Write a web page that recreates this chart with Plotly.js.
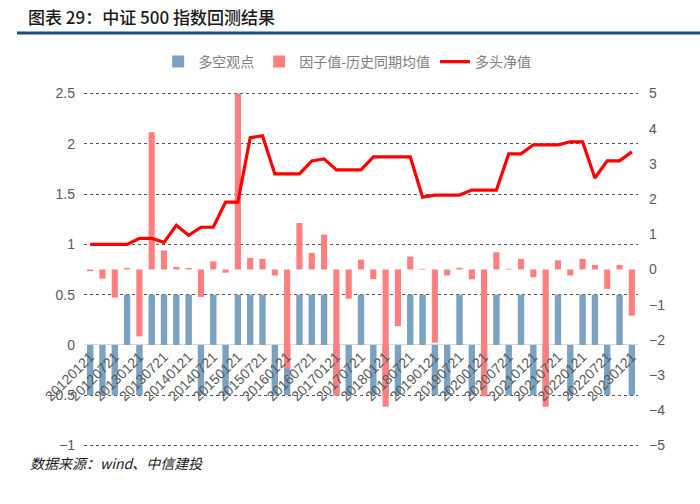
<!DOCTYPE html>
<html>
<head>
<meta charset="utf-8">
<script src="https://cdn.plot.ly/plotly-3.0.1.min.js"></script>
<style>html,body{margin:0;padding:0;background:#fff;}#chart{width:700px;height:504px;}</style>
</head>
<body>
<div id="chart"></div>
<script>
const dates = ["20120121","20120421","20120721","20121021","20130121","20130421","20130721","20131021",
"20140121","20140421","20140721","20141021","20150121","20150421","20150721","20151021",
"20160121","20160421","20160721","20161021","20170121","20170421","20170721","20171021",
"20180121","20180421","20180721","20181021","20190121","20190421","20190721","20191021",
"20200121","20200421","20200721","20201021","20210121","20210421","20210721","20211021",
"20220121","20220421","20220721","20221021","20230121"];

const viewLongShort = [-0.5,-0.5,-0.5,0.5,-0.5,0.5,0.5,0.5,0.5,-0.5,0.5,-0.5,0.5,0.5,0.5,-0.5,
-0.5,0.5,0.5,0.5,-0.5,-0.5,0.5,-0.5,-0.5,-0.5,0.5,0.5,-0.5,-0.5,0.5,-0.5,
-0.5,0.5,-0.5,0.5,-0.5,-0.5,0.5,-0.5,0.5,0.5,-0.5,0.5,-0.5];

const factorDiff = [-0.05,-0.26,-0.8,0.04,-1.9,3.9,0.54,0.07,0.04,-0.78,0.23,-0.09,5.0,0.33,0.3,-0.17,
-2.8,1.32,0.47,0.99,-3.58,-0.83,0.28,-0.27,-3.9,-1.61,0.37,0.02,-2.08,-0.17,0.05,-0.28,
-3.6,0.49,0.02,0.3,-0.22,-3.9,0.26,-0.17,0.3,0.13,-0.55,0.13,-1.31];

const longNav = [1.0,1.0,1.0,1.0,1.06,1.06,1.02,1.19,1.09,1.17,1.17,1.42,1.42,2.06,2.08,1.70,
1.70,1.70,1.83,1.85,1.74,1.74,1.74,1.87,1.87,1.87,1.87,1.47,1.49,1.49,1.49,1.54,
1.54,1.54,1.90,1.90,1.99,1.99,1.99,2.02,2.02,1.66,1.83,1.83,1.92];

const tickDates = dates.filter((d, i) => i % 2 === 0);

const axisFont = {family: "Liberation Sans, Arial, sans-serif", size: 14, color: "#595959"};
const cjk = "Noto Sans CJK SC, sans-serif";

const traces = [
  {type: "bar", name: "多空观点", x: dates, y: viewLongShort, xaxis: "x", yaxis: "y",
   marker: {color: "#7BA2C0"}, width: 0.52},
  {type: "bar", name: "因子值-历史同期均值", x: dates, y: factorDiff, xaxis: "x", yaxis: "y2",
   marker: {color: "#FF7F80"}, width: 0.5},
  {type: "scatter", mode: "lines", name: "多头净值", x: dates, y: longNav, xaxis: "x", yaxis: "y3",
   line: {color: "#FF0000", width: 3.2}}
];

const layout = {
  width: 700, height: 504,
  margin: {l: 84, r: 62, t: 92, b: 57},
  paper_bgcolor: "#fff", plot_bgcolor: "#fff",
  barmode: "overlay",
  showlegend: true,
  legend: {orientation: "h", x: 0.475, xanchor: "center", y: (447-62)/355, yanchor: "middle",
    font: {family: cjk, size: 14, color: "#7f7f7f"}, itemwidth: 30, tracegroupgap: 20},
  title: {text: "图表 29：中证 500 指数回测结果", x: 28/700, xanchor: "left", xref: "container",
    y: 1 - 18/504, yanchor: "middle", yref: "container",
    font: {family: cjk, size: 17, color: "#1a1a1a", weight: 500}},
  xaxis: {type: "category", anchor: "free", position: 1.015/3.53, tickmode: "array",
    tickvals: tickDates, ticktext: tickDates, tickangle: -45, tickfont: axisFont,
    showgrid: false, showline: false, zeroline: false, ticks: "", range: [-0.5, 44.5]},
  yaxis: {range: [-1.015, 2.515], dtick: 0.5, tick0: 0, tickfont: axisFont, showgrid: true,
    gridcolor: "#555", griddash: "dot", gridwidth: 1, zeroline: true, zerolinecolor: "#d9d9d9",
    zerolinewidth: 1, showline: false, ticks: "", ticklabelstandoff: 8},
  yaxis2: {range: [-5.043, 5.043], dtick: 1, overlaying: "y", side: "right", tickfont: axisFont,
    showgrid: false, zeroline: false, showline: false, ticks: "", ticklabelstandoff: 10},
  yaxis3: {range: [-1.015, 2.515], overlaying: "y", visible: false},
  shapes: [{type: "line", xref: "paper", yref: "paper", x0: (17-84)/554, x1: (700-84)/554,
    y0: (447-33)/355, y1: (447-33)/355, line: {color: "#1F4E79", width: 3}}],
  annotations: [{text: "<i>数据来源：wind、中信建投</i>", xref: "paper", yref: "paper",
    x: (28-84)/554, xanchor: "left", y: (447-463)/355, yanchor: "middle", showarrow: false,
    font: {family: cjk, size: 14, color: "#1a1a1a"}}]
};

Plotly.newPlot("chart", traces, layout, {displayModeBar: false, staticPlot: true});
</script>
</body>
</html>
